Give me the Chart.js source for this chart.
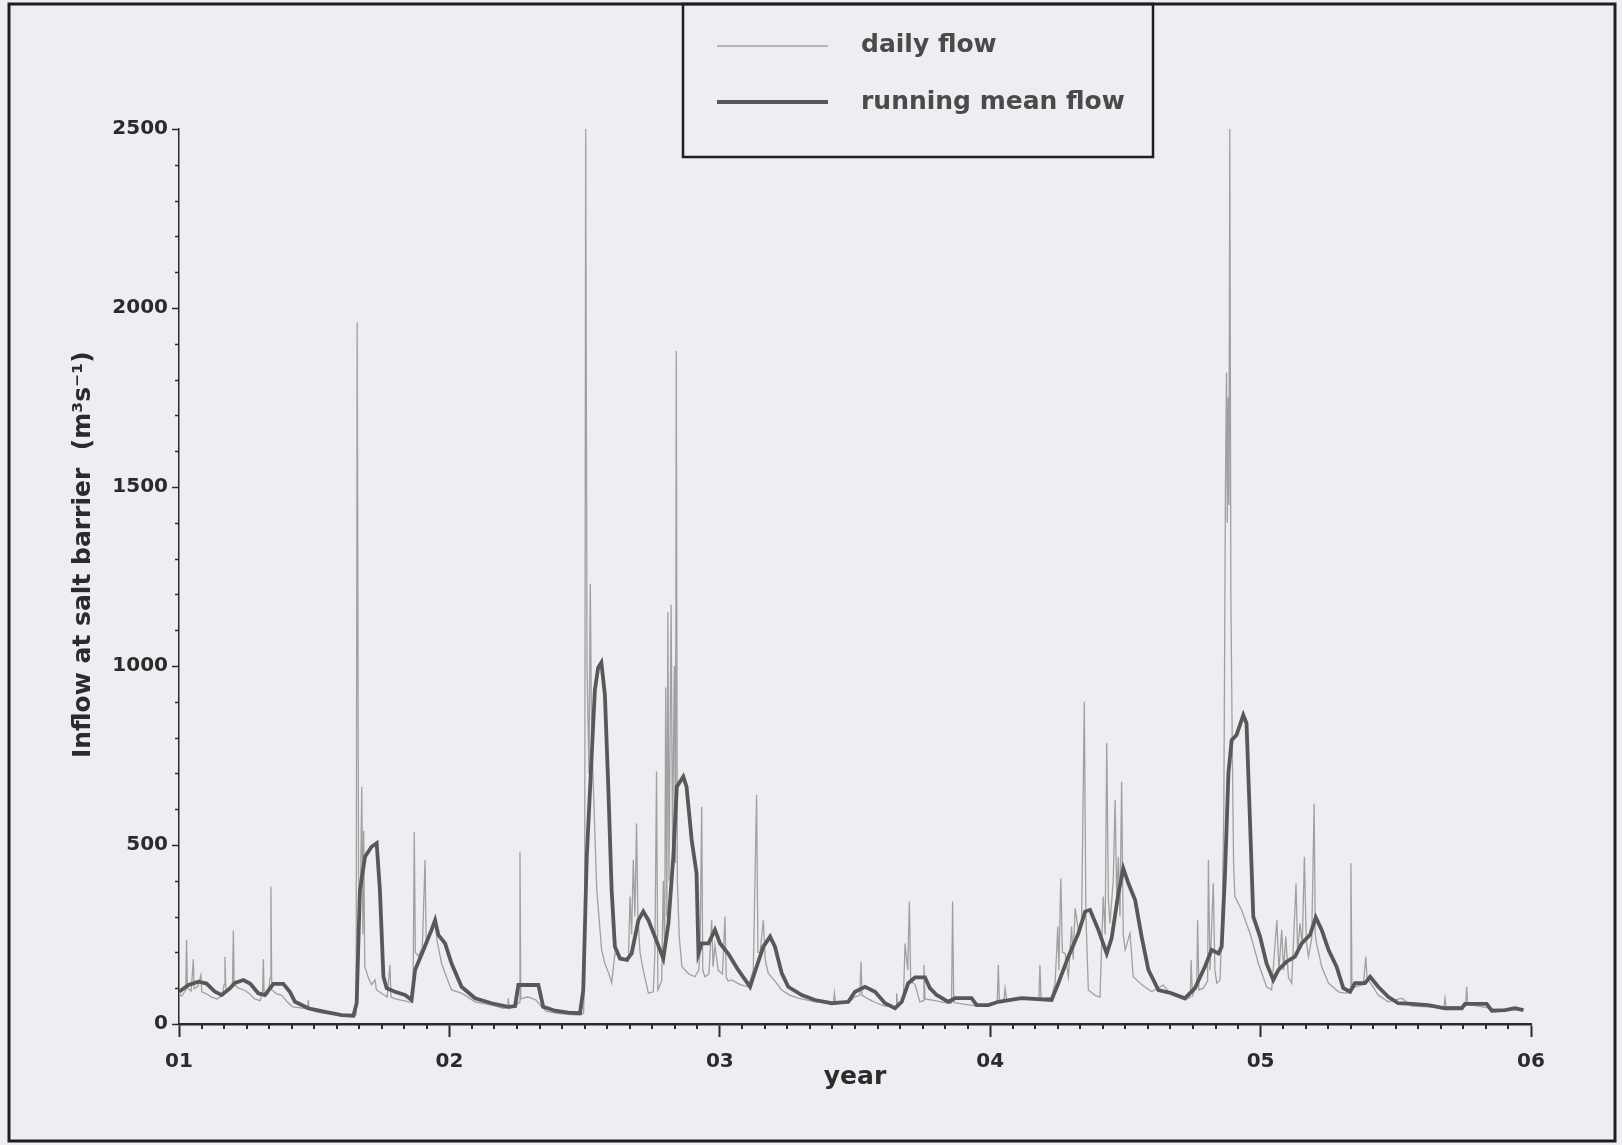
<!DOCTYPE html>
<html><head><meta charset="utf-8">
<script src="https://cdn.jsdelivr.net/npm/chart.js@4.4.1/dist/chart.umd.min.js"></script>
<style>html,body{margin:0;padding:0;background:#eceef1;}canvas{display:block;}</style>
</head><body>
<canvas id="c" width="1622" height="1145"></canvas>
<script>
// ---- data ----
const yearTickLabels = ['01', '02', '03', '04', '05', '06'];
const seriesNames = ['daily flow', 'running mean flow'];
const xAxisTitle = 'year';
const yAxisTitle = 'Inflow at salt barrier  (m³s⁻¹)';

// [year (01 = 1.0), flow m3/s]
const dailyFlow = [
[1.000,85],[1.010,78],[1.025,95],[1.028,235],[1.031,100],[1.045,92],[1.053,181],[1.056,98],[1.070,105],[1.081,137],[1.084,90],[1.100,85],[1.120,75],[1.140,70],[1.160,80],[1.167,110],[1.170,188],[1.173,100],[1.185,95],[1.198,115],[1.201,261],[1.204,110],[1.220,100],[1.240,95],[1.260,85],[1.280,70],[1.300,65],[1.309,90],[1.312,181],[1.315,80],[1.330,85],[1.337,130],[1.340,384],[1.343,95],[1.360,85],[1.380,80],[1.400,62],[1.420,48],[1.450,45],[1.476,42],[1.478,67],[1.481,40],[1.520,32],[1.560,28],[1.600,24],[1.640,22],[1.655,25],[1.659,1960],[1.664,420],[1.670,300],[1.676,663],[1.680,250],[1.683,540],[1.687,160],[1.700,130],[1.712,110],[1.725,123],[1.730,95],[1.750,85],[1.770,75],[1.780,165],[1.784,75],[1.800,70],[1.830,65],[1.860,60],[1.866,120],[1.870,537],[1.874,200],[1.885,190],[1.900,215],[1.910,458],[1.914,230],[1.930,250],[1.947,290],[1.955,230],[1.971,169],[1.990,130],[2.008,95],[2.045,86],[2.095,62],[2.156,53],[2.200,44],[2.216,45],[2.218,72],[2.221,44],[2.243,50],[2.258,60],[2.261,481],[2.264,70],[2.290,76],[2.320,67],[2.341,48],[2.360,35],[2.400,30],[2.440,27],[2.480,25],[2.496,30],[2.500,120],[2.504,2500],[2.509,1000],[2.516,700],[2.521,1230],[2.526,800],[2.533,650],[2.545,374],[2.563,207],[2.575,169],[2.590,140],[2.600,114],[2.612,197],[2.640,185],[2.662,175],[2.668,356],[2.674,250],[2.680,458],[2.686,300],[2.692,560],[2.697,300],[2.705,200],[2.717,150],[2.736,86],[2.754,90],[2.760,200],[2.766,705],[2.771,95],[2.785,120],[2.791,400],[2.796,200],[2.800,940],[2.804,300],[2.808,1150],[2.812,400],[2.820,1171],[2.825,500],[2.832,1000],[2.836,450],[2.839,1880],[2.843,400],[2.850,244],[2.860,160],[2.885,140],[2.908,132],[2.922,150],[2.927,200],[2.933,607],[2.937,150],[2.945,132],[2.960,140],[2.970,290],[2.975,160],[2.982,220],[2.994,150],[3.010,140],[3.019,300],[3.024,130],[3.031,120],[3.044,123],[3.075,110],[3.105,104],[3.124,150],[3.136,640],[3.141,200],[3.149,200],[3.161,290],[3.168,180],[3.179,142],[3.204,120],[3.229,95],[3.260,80],[3.290,72],[3.352,62],[3.420,58],[3.424,86],[3.428,58],[3.475,58],[3.500,76],[3.518,80],[3.522,174],[3.526,80],[3.549,70],[3.574,60],[3.611,50],[3.652,48],[3.654,86],[3.658,48],[3.679,70],[3.685,225],[3.695,150],[3.701,342],[3.706,120],[3.722,110],[3.740,62],[3.752,65],[3.755,165],[3.759,70],[3.796,65],[3.833,60],[3.857,58],[3.861,342],[3.865,60],[3.907,55],[3.956,50],[4.005,55],[4.026,60],[4.030,165],[4.034,62],[4.051,65],[4.055,100],[4.061,65],[4.104,70],[4.141,68],[4.180,70],[4.184,165],[4.188,70],[4.227,75],[4.240,114],[4.250,272],[4.254,150],[4.261,407],[4.267,200],[4.277,197],[4.289,132],[4.301,272],[4.307,180],[4.314,323],[4.326,263],[4.338,280],[4.348,900],[4.354,300],[4.363,95],[4.388,80],[4.406,75],[4.418,356],[4.425,250],[4.431,784],[4.437,350],[4.443,281],[4.455,400],[4.462,626],[4.468,350],[4.474,467],[4.480,300],[4.486,677],[4.492,250],[4.499,207],[4.517,253],[4.529,132],[4.560,110],[4.597,90],[4.640,109],[4.671,81],[4.720,67],[4.740,75],[4.743,179],[4.748,80],[4.757,95],[4.764,100],[4.767,290],[4.772,95],[4.788,100],[4.804,120],[4.807,458],[4.813,150],[4.825,393],[4.831,150],[4.838,114],[4.850,123],[4.858,300],[4.864,600],[4.870,1500],[4.874,1820],[4.877,1400],[4.880,1750],[4.883,1450],[4.886,2500],[4.890,1200],[4.895,800],[4.900,450],[4.905,356],[4.930,318],[4.961,253],[4.992,169],[5.022,104],[5.041,95],[5.060,290],[5.068,150],[5.078,263],[5.085,150],[5.093,244],[5.103,130],[5.115,114],[5.131,393],[5.137,200],[5.146,281],[5.154,220],[5.162,467],[5.169,230],[5.177,188],[5.189,240],[5.198,616],[5.202,250],[5.207,225],[5.226,160],[5.251,114],[5.288,90],[5.312,86],[5.331,88],[5.334,449],[5.338,95],[5.349,104],[5.380,110],[5.389,188],[5.394,125],[5.399,123],[5.435,81],[5.472,62],[5.522,72],[5.559,50],[5.620,48],[5.678,48],[5.682,72],[5.686,48],[5.731,48],[5.758,50],[5.762,104],[5.766,55],[5.805,50],[5.842,45],[5.867,39],[5.916,40],[5.972,38]
];

const runningMeanFlow = [
[1.000,90],[1.035,109],[1.072,118],[1.102,113],[1.133,90],[1.158,81],[1.189,100],[1.207,115],[1.238,123],[1.263,113],[1.293,86],[1.318,81],[1.337,100],[1.349,112],[1.386,112],[1.410,90],[1.429,62],[1.478,44],[1.540,34],[1.602,25],[1.645,23],[1.657,58],[1.669,374],[1.688,467],[1.712,495],[1.731,505],[1.743,374],[1.756,132],[1.768,100],[1.799,90],[1.836,81],[1.860,67],[1.873,151],[1.904,207],[1.934,263],[1.947,290],[1.959,249],[1.984,225],[2.008,169],[2.045,104],[2.095,72],[2.156,58],[2.218,48],[2.243,50],[2.255,109],[2.329,109],[2.347,48],[2.391,37],[2.440,32],[2.483,30],[2.495,95],[2.508,467],[2.526,747],[2.538,933],[2.550,995],[2.562,1010],[2.575,920],[2.588,654],[2.600,374],[2.612,216],[2.631,183],[2.656,179],[2.674,197],[2.699,290],[2.717,314],[2.736,290],[2.760,244],[2.791,183],[2.810,281],[2.828,467],[2.841,663],[2.865,691],[2.877,663],[2.896,514],[2.914,421],[2.921,197],[2.933,225],[2.958,225],[2.982,263],[3.001,225],[3.031,197],[3.068,151],[3.112,104],[3.130,146],[3.161,216],[3.186,244],[3.204,216],[3.229,142],[3.253,104],[3.303,81],[3.352,67],[3.414,58],[3.475,62],[3.500,90],[3.537,104],[3.574,90],[3.611,58],[3.648,44],[3.673,62],[3.697,114],[3.722,130],[3.759,130],[3.777,100],[3.802,81],[3.845,62],[3.870,72],[3.931,72],[3.950,53],[3.993,53],[4.030,62],[4.116,72],[4.227,67],[4.252,114],[4.289,188],[4.326,253],[4.351,314],[4.369,319],[4.400,263],[4.431,197],[4.449,239],[4.474,365],[4.492,435],[4.511,393],[4.536,346],[4.560,244],[4.585,151],[4.622,95],[4.671,86],[4.720,72],[4.757,100],[4.794,160],[4.819,207],[4.844,197],[4.856,216],[4.868,412],[4.881,700],[4.893,793],[4.911,807],[4.936,863],[4.948,840],[4.961,561],[4.973,300],[4.998,244],[5.022,169],[5.047,123],[5.066,151],[5.096,174],[5.127,188],[5.152,225],[5.183,249],[5.204,298],[5.226,263],[5.251,207],[5.281,160],[5.306,100],[5.331,90],[5.349,114],[5.386,114],[5.405,132],[5.435,104],[5.472,76],[5.509,58],[5.559,56],[5.620,53],[5.682,44],[5.744,44],[5.756,56],[5.836,56],[5.855,37],[5.904,39],[5.941,44],[5.972,39]
];

// ---- styling ----
const BG = '#eceef1';
const INK = '#2b2b2b';
const FONT = "'DejaVu Sans', 'Liberation Sans', sans-serif";
const DAILY_COLOR = '#a0a0a0';
const MEAN_COLOR = '#585858';

const toXY = arr => arr.map(p => ({x: p[0], y: p[1]}));

const decorations = {
  id: 'decorations',
  beforeDraw(chart) {
    const ctx = chart.ctx;
    ctx.save();
    ctx.fillStyle = BG;
    ctx.fillRect(0, 0, chart.width, chart.height);
    ctx.restore();
  },
  afterDraw(chart) {
    const ctx = chart.ctx;
    const xs = chart.scales.x, ys = chart.scales.y;
    const area = chart.chartArea;
    ctx.save();
    // minor ticks (monthly on x, every 100 on y)
    ctx.strokeStyle = INK;
    ctx.lineWidth = 2;
    ctx.beginPath();
    for (let k = 1; k < 60; k++) {
      if (k % 12 === 0) continue;
      const px = Math.round(xs.getPixelForValue(1 + k / 12));
      ctx.moveTo(px, area.bottom);
      ctx.lineTo(px, area.bottom + 5);
    }
    ctx.stroke();
    ctx.lineWidth = 1.5;
    ctx.beginPath();
    for (let v = 100; v < 2500; v += 100) {
      if (v % 500 === 0) continue;
      const py = Math.round(ys.getPixelForValue(v)) + 0.5;
      ctx.moveTo(area.left - 4, py);
      ctx.lineTo(area.left, py);
    }
    ctx.stroke();

    // legend box
    const lx = 683, ly = 4, lw = 470, lh = 153;
    ctx.fillStyle = BG;
    ctx.fillRect(lx, ly, lw, lh);
    ctx.strokeStyle = '#1e1e1e';
    ctx.lineWidth = 2.5;
    ctx.strokeRect(lx, ly, lw, lh);
    const items = [
      {name: seriesNames[0], color: DAILY_COLOR, width: 1.5, y: 46, base: 52},
      {name: seriesNames[1], color: MEAN_COLOR, width: 4, y: 102, base: 109}
    ];
    ctx.font = "bold 25px " + FONT;
    ctx.textBaseline = 'alphabetic';
    ctx.textAlign = 'left';
    for (const it of items) {
      ctx.strokeStyle = it.color;
      ctx.lineWidth = it.width;
      ctx.beginPath();
      ctx.moveTo(717, it.y);
      ctx.lineTo(828, it.y);
      ctx.stroke();
      ctx.fillStyle = '#4a4a4a';
      ctx.fillText(it.name, 861, it.base);
    }

    // outer frame
    ctx.strokeStyle = '#1e1e1e';
    ctx.lineWidth = 3;
    ctx.strokeRect(9, 4, 1606, 1137);
    ctx.restore();
  }
};

new Chart(document.getElementById('c'), {
  type: 'line',
  data: {
    datasets: [
      {
        label: seriesNames[0],
        data: toXY(dailyFlow),
        borderColor: DAILY_COLOR,
        borderWidth: 1.3,
        pointRadius: 0,
        tension: 0,
        fill: false,
        order: 2
      },
      {
        label: seriesNames[1],
        data: toXY(runningMeanFlow),
        borderColor: MEAN_COLOR,
        borderWidth: 3.8,
        pointRadius: 0,
        tension: 0,
        fill: false,
        order: 1
      }
    ]
  },
  options: {
    responsive: false,
    animation: false,
    devicePixelRatio: 1,
    layout: {padding: {left: 0, top: 129, right: 91, bottom: 0}},
    plugins: {legend: {display: false}, tooltip: {enabled: false}},
    scales: {
      x: {
        type: 'linear',
        min: 1, max: 6,
        afterFit(s) { s.height = 121; },
        ticks: {
          stepSize: 1,
          padding: 13,
          color: INK,
          font: {family: FONT, size: 20, weight: 'bold'},
          callback: v => yearTickLabels[Math.round(v) - 1]
        },
        grid: {drawOnChartArea: false, drawTicks: true, tickLength: 13, tickWidth: 2, tickColor: INK},
        border: {display: true, color: INK, width: 2.5},
        title: {
          display: true, text: xAxisTitle, color: INK,
          font: {family: FONT, size: 25, weight: 'bold'},
          padding: {top: 0, bottom: 53}
        }
      },
      y: {
        type: 'linear',
        min: 0, max: 2500,
        afterFit(s) { s.width = 179; },
        ticks: {
          stepSize: 500,
          padding: 4,
          color: INK,
          font: {family: FONT, size: 20, weight: 'bold'},
          callback: v => String(v)
        },
        grid: {drawOnChartArea: false, drawTicks: true, tickLength: 7, tickWidth: 1.5, tickColor: INK},
        border: {display: true, color: INK, width: 1.5},
        title: {
          display: true, text: '     ' + yAxisTitle, color: INK,
          font: {family: FONT, size: 25, weight: 'bold'},
          padding: {top: 68, bottom: 0}
        }
      }
    }
  },
  plugins: [decorations]
});
</script>
</body></html>
